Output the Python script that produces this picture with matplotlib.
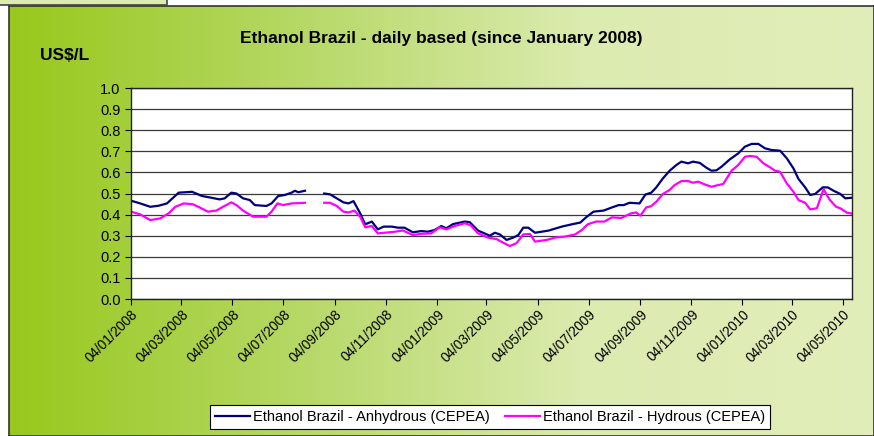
import matplotlib
matplotlib.use("Agg")
import matplotlib.pyplot as plt
import matplotlib.dates as mdates
from matplotlib.colors import LinearSegmentedColormap
from matplotlib.patches import Rectangle
import numpy as np
import pandas as pd

plt.rcParams['font.family'] = ['Liberation Sans', 'DejaVu Sans']

nan = float('nan')

# Anhydrous (CEPEA), US$/L
anhydrous_dates = [
    '2008-01-04', '2008-01-15', '2008-01-27', '2008-02-06', '2008-02-16', '2008-03-01',
    '2008-03-17', '2008-03-29', '2008-04-09', '2008-04-19', '2008-04-25', '2008-05-03',
    '2008-05-09', '2008-05-17', '2008-05-25', '2008-05-31', '2008-06-14', '2008-06-20',
    '2008-06-28', '2008-07-06', '2008-07-14', '2008-07-18', '2008-07-22', '2008-07-30',
    '2008-08-10', '2008-08-22', '2008-08-29', '2008-09-06', '2008-09-14', '2008-09-20',
    '2008-09-26', '2008-10-04', '2008-10-10', '2008-10-18', '2008-10-25', '2008-11-01',
    '2008-11-11', '2008-11-18', '2008-11-26', '2008-12-06', '2008-12-16', '2008-12-24',
    '2009-01-01', '2009-01-09', '2009-01-15', '2009-01-23', '2009-02-06', '2009-02-12',
    '2009-02-22', '2009-03-08', '2009-03-14', '2009-03-20', '2009-03-28', '2009-04-05',
    '2009-04-11', '2009-04-17', '2009-04-23', '2009-05-01', '2009-05-17', '2009-06-02',
    '2009-06-14', '2009-06-24', '2009-07-02', '2009-07-10', '2009-07-22', '2009-08-01',
    '2009-08-09', '2009-08-15', '2009-08-22', '2009-09-03', '2009-09-10', '2009-09-17',
    '2009-09-23', '2009-10-01', '2009-10-09', '2009-10-17', '2009-10-23', '2009-10-31',
    '2009-11-06', '2009-11-14', '2009-11-22', '2009-11-28', '2009-12-04', '2009-12-10',
    '2009-12-20', '2009-12-30', '2010-01-07', '2010-01-15', '2010-01-23', '2010-01-31',
    '2010-02-08', '2010-02-18', '2010-02-26', '2010-03-06', '2010-03-12', '2010-03-20',
    '2010-03-26', '2010-04-01', '2010-04-10', '2010-04-16', '2010-04-23', '2010-05-01',
    '2010-05-07', '2010-05-15',
]
anhydrous = [
    0.466, 0.453, 0.437, 0.442, 0.453, 0.504,
    0.508, 0.488, 0.480, 0.472, 0.477, 0.504,
    0.500, 0.477, 0.469, 0.445, 0.441, 0.453,
    0.488, 0.493, 0.504, 0.513, 0.506, 0.513,
    nan, 0.500, 0.496, 0.477, 0.458, 0.453,
    0.464, 0.406, 0.354, 0.367, 0.330, 0.343,
    0.343, 0.338, 0.338, 0.316, 0.322, 0.319,
    0.327, 0.346, 0.335, 0.355, 0.367, 0.364,
    0.324, 0.300, 0.314, 0.306, 0.280, 0.291,
    0.303, 0.338, 0.338, 0.314, 0.324, 0.343,
    0.354, 0.362, 0.390, 0.414, 0.419, 0.434,
    0.445, 0.445, 0.456, 0.453, 0.495, 0.504,
    0.529, 0.572, 0.608, 0.635, 0.651, 0.643,
    0.651, 0.645, 0.622, 0.608, 0.610, 0.627,
    0.662, 0.690, 0.722, 0.735, 0.735, 0.714,
    0.706, 0.703, 0.667, 0.619, 0.569, 0.529,
    0.493, 0.498, 0.529, 0.529, 0.513, 0.498,
    0.477, 0.480,
]

# Hydrous (CEPEA), US$/L
hydrous_dates = [
    '2008-01-04', '2008-01-15', '2008-01-27', '2008-02-08', '2008-02-18', '2008-02-26',
    '2008-03-07', '2008-03-18', '2008-03-26', '2008-04-05', '2008-04-15', '2008-04-23',
    '2008-05-03', '2008-05-09', '2008-05-17', '2008-05-29', '2008-06-14', '2008-06-20',
    '2008-06-27', '2008-07-04', '2008-07-14', '2008-07-30', '2008-08-10', '2008-08-22',
    '2008-08-29', '2008-09-06', '2008-09-14', '2008-09-20', '2008-09-27', '2008-10-04',
    '2008-10-10', '2008-10-18', '2008-10-25', '2008-11-15', '2008-11-24', '2008-12-06',
    '2008-12-16', '2008-12-28', '2009-01-07', '2009-01-15', '2009-01-25', '2009-02-06',
    '2009-02-13', '2009-02-22', '2009-03-06', '2009-03-16', '2009-03-24', '2009-04-01',
    '2009-04-09', '2009-04-17', '2009-04-25', '2009-05-01', '2009-05-15', '2009-05-25',
    '2009-06-06', '2009-06-18', '2009-06-26', '2009-07-03', '2009-07-13', '2009-07-23',
    '2009-08-01', '2009-08-12', '2009-08-24', '2009-08-30', '2009-09-04', '2009-09-11',
    '2009-09-17', '2009-09-23', '2009-10-01', '2009-10-09', '2009-10-15', '2009-10-23',
    '2009-10-31', '2009-11-06', '2009-11-12', '2009-11-20', '2009-11-28', '2009-12-06',
    '2009-12-12', '2009-12-22', '2009-12-30', '2010-01-07', '2010-01-13', '2010-01-21',
    '2010-01-29', '2010-02-06', '2010-02-12', '2010-02-18', '2010-02-26', '2010-03-06',
    '2010-03-12', '2010-03-20', '2010-03-26', '2010-04-03', '2010-04-11', '2010-04-18',
    '2010-04-26', '2010-05-01', '2010-05-09', '2010-05-15',
]
hydrous = [
    0.414, 0.401, 0.374, 0.382, 0.406, 0.437,
    0.453, 0.449, 0.434, 0.414, 0.419, 0.437,
    0.458, 0.445, 0.419, 0.390, 0.390, 0.414,
    0.453, 0.445, 0.453, 0.456, nan, 0.456,
    0.456, 0.441, 0.414, 0.410, 0.419, 0.390,
    0.340, 0.346, 0.311, 0.319, 0.325, 0.303,
    0.309, 0.311, 0.340, 0.330, 0.346, 0.359,
    0.350, 0.311, 0.291, 0.284, 0.267, 0.251,
    0.265, 0.306, 0.308, 0.272, 0.280, 0.291,
    0.296, 0.306, 0.327, 0.354, 0.367, 0.367,
    0.387, 0.384, 0.406, 0.410, 0.395, 0.434,
    0.440, 0.461, 0.498, 0.517, 0.540, 0.559,
    0.559, 0.551, 0.556, 0.543, 0.532, 0.540,
    0.545, 0.608, 0.635, 0.674, 0.678, 0.674,
    0.643, 0.624, 0.608, 0.603, 0.548, 0.508,
    0.469, 0.456, 0.425, 0.430, 0.520, 0.472,
    0.437, 0.430, 0.409, 0.405,
]

W, H = 874, 436
fig = plt.figure(figsize=(W / 100, H / 100), dpi=100)
fig.patch.set_facecolor('white')

# green gradient panel
bg = fig.add_axes([9 / W, 0, (W - 9) / W, (H - 6) / H])
cmap = LinearSegmentedColormap.from_list('g', ['#98c81c', '#b6d866', '#dcebb0', '#e2eeb9'])
bg.imshow(np.linspace(0, 1, 256).reshape(1, -1), aspect='auto', cmap=cmap,
          extent=[0, 1, 0, 1])
bg.set_xlim(0, 1)
bg.set_ylim(0, 1)
bg.set_xticks([])
bg.set_yticks([])
for s in bg.spines.values():
    s.set_color('#333333')
    s.set_linewidth(1.2)

# small box at top-left
fig.patches.append(Rectangle((-0.01, 1 - 5.5 / H), 167 / W + 0.01, 0.05,
                             transform=fig.transFigure, facecolor='#dcebb0',
                             edgecolor='#444444', lw=1.2))

ax = fig.add_axes([131 / W, 1 - 299 / H, 721 / W, 211 / H])
ax.set_facecolor('white')
ax.plot(pd.to_datetime(anhydrous_dates), anhydrous, color='#000080', lw=1.6,
        label='Ethanol Brazil - Anhydrous (CEPEA)')
ax.plot(pd.to_datetime(hydrous_dates), hydrous, color='#ff00ff', lw=1.6,
        label='Ethanol Brazil - Hydrous (CEPEA)')

ax.set_ylim(0, 1.0)
ax.set_yticks(np.arange(0, 1.01, 0.1))
ax.yaxis.set_major_formatter(plt.FormatStrFormatter('%.1f'))
ax.set_xlim(pd.Timestamp('2008-01-04'), pd.Timestamp('2010-05-15'))
ax.xaxis.set_major_locator(mdates.MonthLocator(bymonth=[1, 3, 5, 7, 9, 11], bymonthday=4))
ax.xaxis.set_major_formatter(mdates.DateFormatter('%d/%m/%Y'))
ax.grid(axis='y', color='#3a3a3a', lw=0.9)
ax.set_axisbelow(True)
for s in ax.spines.values():
    s.set_color('#222222')
    s.set_linewidth(1.0)
ax.tick_params(axis='both', direction='out', length=4, width=0.8, labelsize=10.5,
               colors='black')
ax.tick_params(axis='x', pad=2)
for lab in ax.get_xticklabels():
    lab.set_rotation(45)
    lab.set_ha('right')
    lab.set_rotation_mode('anchor')
    lab.set_fontsize(9.8)

fig.text(441 / W, 1 - 38 / H, 'Ethanol Brazil - daily based (since January 2008)',
         ha='center', va='center', fontsize=12.5, fontweight='bold')
fig.text(40 / W, 1 - 55 / H, 'US$/L', ha='left', va='center', fontsize=12.5,
         fontweight='bold')

leg = fig.legend(loc='center', bbox_to_anchor=(490 / W, 1 - 417 / H), ncol=2,
                 fontsize=10.5, frameon=True, fancybox=False, handlelength=2.4,
                 handletextpad=0.2, columnspacing=1.0, borderpad=0.35)
leg.get_frame().set_edgecolor('black')
leg.get_frame().set_linewidth(0.8)
leg.get_frame().set_facecolor('white')
leg.get_frame().set_alpha(1)

fig.savefig('out.png', dpi=100)
